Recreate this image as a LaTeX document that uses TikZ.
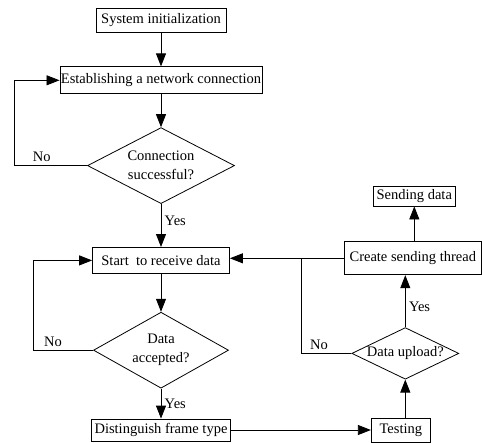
\documentclass[tikz,border=0pt]{standalone}
\usepackage{fontspec}
\setmainfont{Liberation Serif}
\usetikzlibrary{shapes,arrows.meta,positioning}
\def \fs {\fontsize{14.5}{19}\selectfont}

\begin{document}
\begin{tikzpicture}[x=1pt,y=-1pt,line width=0.8pt,>={Triangle[length=13pt,width=10pt]},
    box/.style={draw,font=\fs,inner xsep=1pt,inner ysep=2pt},
    decision/.style={draw,diamond,aspect=2,inner sep=0pt,font=\fs,align=center}]
    \useasboundingbox (0,0) rectangle (482,442);
    % main column
    \node[box,minimum width=130pt,minimum height=24pt] (SI) at (161,20) {System initialization};
    \node[box,minimum width=202pt,minimum height=27pt,below=34pt of SI] (EN) {Establishing a network connection};
    \node[decision,minimum width=147pt,minimum height=76pt,below=33pt of EN] (C1) {Connection\\successful?};
    \node[box,minimum width=137pt,minimum height=26pt,below=43pt of C1] (SR) {Start\ \ to receive data};
    \node[decision,minimum width=135pt,minimum height=76pt,below=38pt of SR] (D2) {Data\\accepted?};
    \node[box,minimum width=139pt,minimum height=22pt,below=30pt of D2] (DF) {Distinguish frame type};
    % right column
    \node[box,minimum width=59pt,minimum height=24pt,right=140pt of DF] (T) {Testing};
    \node[decision,minimum width=107pt,minimum height=51pt,above=38pt of T,xshift=4.5pt] (D3) {Data upload?};
    \node[box,minimum width=137pt,minimum height=33pt,above=52pt of D3,xshift=7.5pt] (CS) {Create sending thread};
    \node[box,minimum width=82pt,minimum height=20pt,above=35pt of CS,xshift=1.5pt] (SD) {Sending data};
    \coordinate[left=43pt of CS.west] (J);

    \draw[->] (SI) -- (EN);
    \draw[->] (EN) -- (C1);
    \draw[->] (C1.west) -- node[above,pos=0.62,font=\fs]{No} ++(-73pt,0) |- (EN.west);
    \draw[->] (C1) -- node[right,pos=0.38,font=\fs]{Yes} (SR);
    \draw[->] (SR) -- (D2);
    \draw[->] (D2.west) -- node[above,pos=0.67,font=\fs]{No} ++(-60pt,0) |- (SR.west);
    \draw[->] (D2) -- node[right,font=\fs]{Yes} (DF);
    \draw[->] (DF) -- (T);
    \draw[->] (D3.south |- T.north) -- (D3.south);
    \draw[->] (D3.north) -- node[right,pos=0.4,font=\fs]{Yes} (D3.north |- CS.south);
    \draw[->] (SD.south |- CS.north) -- (SD.south);
    \draw[->] (CS.west) -- (SR.east |- CS.west);
    \draw (D3.west) -| node[above,pos=0.32,font=\fs]{No} (J);
\end{tikzpicture}
\end{document}
